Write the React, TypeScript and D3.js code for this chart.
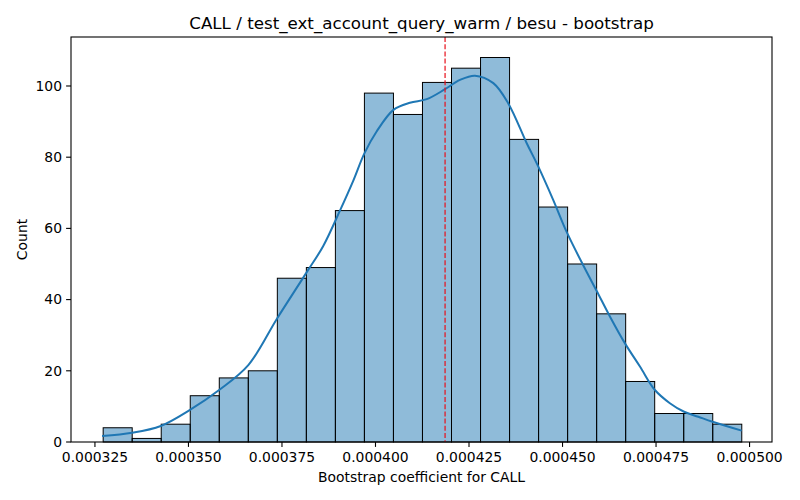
import React from 'react'
import * as d3 from 'd3'

const width = 800
const height = 500
const margin = { top: 37, right: 28, bottom: 58, left: 71 }

// histogram counts, 22 equal bins
const binStart = 0.0003272
const binWidth = 0.00000776
const counts = [4, 1, 5, 13, 18, 20, 46, 49, 65, 98, 92, 101, 105, 108, 85, 66, 50, 36, 17, 8, 8, 5]

// kde curve (value, count)
const kdeX = [
  0.0003269, 0.000335, 0.0003426, 0.0003504, 0.0003582, 0.000366, 0.0003737, 0.0003815,
  0.000386, 0.0003905, 0.0003941, 0.000397, 0.0004003, 0.0004048, 0.0004092, 0.0004137,
  0.0004186, 0.0004226, 0.0004266, 0.0004315, 0.0004355, 0.0004404, 0.0004435, 0.0004475,
  0.0004511, 0.0004556, 0.0004591, 0.0004627, 0.0004667, 0.0004707, 0.0004747, 0.0004787,
  0.0004825, 0.0004863, 0.0004901, 0.0004979,
]
const kdeY = [
  1.7, 2.6, 4.5, 9.0, 14.6, 21.6, 34.7, 47.5,
  55.0, 65.0, 73.5, 81.0, 87.2, 93.3, 95.3, 96.3,
  99.1, 101.7, 102.9, 100.8, 95.1, 84.0, 77.4, 68.0,
  59.0, 49.5, 42.5, 35.2, 27.7, 21.2, 14.6, 10.9,
  8.5, 7.1, 5.7, 3.2,
]

const meanValue = 0.0004186
const xTicks = [0.000325, 0.00035, 0.000375, 0.0004, 0.000425, 0.00045, 0.000475, 0.0005]
const yTicks = [0, 20, 40, 60, 80, 100]

const title = 'CALL / test_ext_account_query_warm / besu - bootstrap'
const xLabel = 'Bootstrap coefficient for CALL'
const yLabel = 'Count'

const font = 'DejaVu Sans, sans-serif'

const App = () => {
  const x = d3.scaleLinear().domain([0.0003186, 0.000506]).range([margin.left, width - margin.right])
  const y = d3.scaleLinear().domain([0, 113.76]).range([height - margin.bottom, margin.top])

  const line = d3
    .line<number>()
    .x((d, i) => x(kdeX[i]))
    .y(d => y(d))
    .curve(d3.curveCatmullRom)

  const x0 = margin.left
  const x1 = width - margin.right
  const y0 = height - margin.bottom
  const y1 = margin.top

  return (
    <svg width={width} height={height} style={{ position: 'absolute', left: 0, top: 0, background: '#fff' }} fontFamily={font}>
      {counts.map((c, i) => {
        const a = x(binStart + i * binWidth)
        const b = x(binStart + (i + 1) * binWidth)
        return (
          <rect key={i} x={a} y={y(c)} width={b - a} height={y(0) - y(c)}
            fill="rgba(31,119,180,0.5)" stroke="#000" strokeWidth={1} />
        )
      })}
      <path d={line(kdeY) || ''} fill="none" stroke="#1f77b4" strokeWidth={2} />
      <line x1={x(meanValue)} x2={x(meanValue)} y1={y1} y2={y0} stroke="#e8101a" strokeWidth={1.2}
        strokeDasharray="5,2.2" />

      {/* frame */}
      <rect x={x0} y={y1} width={x1 - x0} height={y0 - y1} fill="none" stroke="#000" strokeWidth={1.1} />

      {xTicks.map(t => (
        <g key={t} transform={`translate(${x(t)},${y0})`}>
          <line y2={4.9} stroke="#000" strokeWidth={1.1} />
          <text y={20} textAnchor="middle" fontSize={13.9}>{t.toFixed(6)}</text>
        </g>
      ))}
      {yTicks.map(t => (
        <g key={t} transform={`translate(${x0},${y(t)})`}>
          <line x2={-4.9} stroke="#000" strokeWidth={1.1} />
          <text x={-9} dy="0.35em" textAnchor="end" fontSize={13.9}>{t}</text>
        </g>
      ))}

      <text x={(x0 + x1) / 2} y={482} textAnchor="middle" fontSize={13.9}>{xLabel}</text>
      <text transform={`translate(27,${(y0 + y1) / 2}) rotate(-90)`} textAnchor="middle" fontSize={13.9}>{yLabel}</text>
      <text x={(x0 + x1) / 2} y={29} textAnchor="middle" fontSize={16.7}>{title}</text>
    </svg>
  )
}

export default App
